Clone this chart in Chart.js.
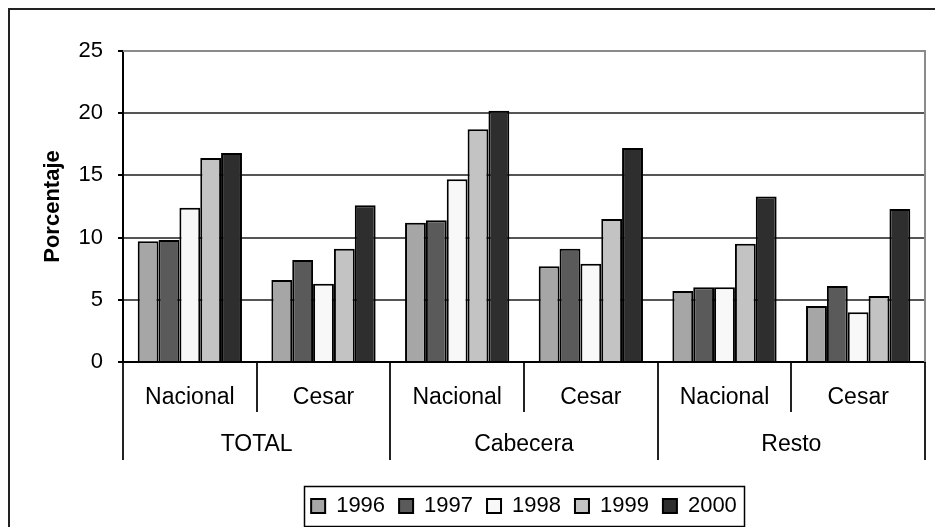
<!DOCTYPE html>
<html>
<head>
<meta charset="utf-8">
<script src="https://cdn.jsdelivr.net/npm/chart.js@4/dist/chart.umd.min.js"></script>
<style>
  body { margin: 0; background: #fff; }
  canvas { display: block; }
</style>
</head>
<body>
<canvas id="myChart" width="935" height="527"></canvas>
<script>
"use strict";
var subLabels = ["Nacional", "Cesar", "Nacional", "Cesar", "Nacional", "Cesar"];
var groupLabels = ["TOTAL", "Cabecera", "Resto"];
var yTicks = [0, 5, 10, 15, 20, 25];

var y1996 = [9.7, 6.6, 11.2, 7.7, 5.7, 4.5];
var y1997 = [9.8, 8.2, 11.4, 9.1, 6.0, 6.1];
var y1998 = [12.4, 6.3, 14.7, 7.9, 6.0, 4.0];
var y1999 = [16.4, 9.1, 18.7, 11.5, 9.5, 5.3];
var y2000 = [16.8, 12.6, 20.2, 17.2, 13.3, 12.3];

var FONT = "'Liberation Sans', Arial, sans-serif";

// frames: outer border, plot border, legend box
var frames = {
    id: "frames",
    beforeDraw: function (chart) {
        var ctx = chart.ctx;
        ctx.save();
        ctx.fillStyle = "#fff";
        ctx.fillRect(0, 0, chart.width, chart.height);
        ctx.restore();
    },
    afterDraw: function (chart) {
        var ctx = chart.ctx, a = chart.chartArea;
        ctx.save();
        ctx.strokeStyle = "#8a8a8a";
        ctx.lineWidth = 2;
        ctx.beginPath();
        ctx.moveTo(a.left, a.top);
        ctx.lineTo(a.right, a.top);
        ctx.lineTo(a.right, a.bottom);
        ctx.stroke();

        ctx.strokeStyle = "#222";
        ctx.lineWidth = 2;
        ctx.strokeRect(9, 9, chart.width + 20, chart.height + 20);

        var boxes = chart.legend.legendHitBoxes;
        if (boxes && boxes.length) {
            var l = Infinity, r = -Infinity, t = Infinity, b = -Infinity;
            boxes.forEach(function (h) {
                l = Math.min(l, h.left); r = Math.max(r, h.left + h.width);
                t = Math.min(t, h.top); b = Math.max(b, h.top + h.height);
            });
            ctx.lineWidth = 1.5;
            ctx.strokeStyle = "#000";
            ctx.strokeRect(Math.round(l - 7) + 0.5, Math.round(t - 9) + 0.5, Math.round(r - l + 14), Math.round(b - t + 18));
        }
        ctx.restore();
    }
};

var ctx = document.getElementById("myChart").getContext("2d");
var chart = new Chart(ctx, {
    type: "bar",
    data: {
        labels: subLabels,
        datasets: [
            { label: "1996", backgroundColor: "#a6a6a6", data: y1996 },
            { label: "1997", backgroundColor: "#5a5a5a", data: y1997 },
            { label: "1998", backgroundColor: "#f8f8f8", data: y1998 },
            { label: "1999", backgroundColor: "#c3c3c3", data: y1999 },
            { label: "2000", backgroundColor: "#2e2e2e", data: y2000 }
        ]
    },
    options: {
        responsive: false,
        animation: false,
        layout: { padding: { left: 30, right: 10, top: 51, bottom: 0 } },
        datasets: {
            bar: {
                borderColor: "#000",
                borderWidth: 2,
                barPercentage: 1.0,
                categoryPercentage: 0.78
            }
        },
        plugins: {
            tooltip: { enabled: false },
            legend: {
                position: "bottom",
                fullSize: false,
                labels: {
                    color: "#000",
                    font: { family: FONT, size: 22 },
                    boxWidth: 14,
                    boxHeight: 14,
                    padding: 14
                }
            }
        },
        scales: {
            y: {
                min: 0,
                max: 25,
                afterBuildTicks: function (scale) {
                    scale.ticks = yTicks.map(function (v) { return { value: v }; });
                },
                afterFit: function (scale) { scale.width = 93; },
                border: { color: "#000", width: 2 },
                grid: { color: "#555", lineWidth: 2, tickLength: 5, tickColor: "#000" },
                ticks: { color: "#000", padding: 15, font: { family: FONT, size: 22 } },
                title: {
                    display: true,
                    text: "Porcentaje",
                    color: "#000",
                    padding: { top: 10, bottom: 0 },
                    font: { family: FONT, size: 22, weight: "bold" }
                }
            },
            x: {
                weight: 1,
                afterFit: function (scale) { scale.height = 50; },
                border: { color: "#000", width: 2 },
                grid: { offset: true, drawOnChartArea: false, tickLength: 50, color: "#222", lineWidth: 2 },
                ticks: { color: "#000", autoSkip: false, maxRotation: 0, padding: -28, font: { family: FONT, size: 23 } }
            },
            x2: {
                type: "category",
                axis: "x",
                position: "bottom",
                weight: 2,
                labels: groupLabels,
                offset: true,
                afterFit: function (scale) { scale.height = 69; },
                border: { display: false },
                grid: { offset: true, drawOnChartArea: false, tickLength: 48, color: "#222", lineWidth: 2 },
                ticks: { color: "#000", autoSkip: false, maxRotation: 0, padding: -29, font: { family: FONT, size: 23 } }
            }
        }
    },
    plugins: [frames]
});
</script>
</body>
</html>
